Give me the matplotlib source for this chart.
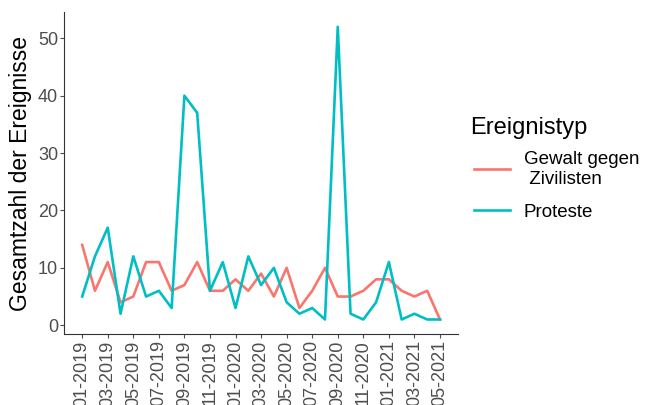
import matplotlib.pyplot as plt
import numpy as np

plt.rcParams["font.family"] = ["Liberation Sans", "DejaVu Sans"]

months = [f"{m:02d}-{y}" for y in (2019, 2020, 2021) for m in range(1, 13)][:29]
gewalt = [14, 6, 11, 4, 5, 11, 11, 6, 7, 11, 6, 6, 8, 6, 9, 5, 10, 3, 6, 10, 5, 5, 6, 8, 8, 6, 5, 6, 1]
proteste = [5, 12, 17, 2, 12, 5, 6, 3, 40, 37, 6, 11, 3, 12, 7, 10, 4, 2, 3, 1, 52, 2, 1, 4, 11, 1, 2, 1, 1]

x = np.arange(len(months))

fig = plt.figure(figsize=(6.56, 4.05), dpi=100)
ax = fig.add_axes([0.098, 0.175, 0.600, 0.795])

ax.plot(x, gewalt, color="#F8766D", lw=1.9, label="Gewalt gegen\n Zivilisten")
ax.plot(x, proteste, color="#00BFC4", lw=1.9, label="Proteste")

ax.set_xlim(-1.4, 29.4)
ax.set_ylim(-1.55, 54.55)
ax.set_xticks(x[::2])
ax.set_xticklabels(months[::2], rotation=90)
ax.set_yticks([0, 10, 20, 30, 40, 50])
ax.tick_params(colors="#4d4d4d", labelsize=13, length=3, width=0.8, pad=1.5)
ax.set_ylabel("Gesamtzahl der Ereignisse", fontsize=16.5)
ax.yaxis.set_label_coords(-0.083, 0.5)

for side in ("top", "right"):
    ax.spines[side].set_visible(False)
for side in ("left", "bottom"):
    ax.spines[side].set_color("#333333")
    ax.spines[side].set_linewidth(0.8)

fig.text(470 / 656, 1 - 128 / 405, "Ereignistyp", fontsize=17, va="center", ha="left")
leg = ax.legend(
    loc="upper left",
    bbox_to_anchor=(474 / 656, 1 - 151 / 405),
    bbox_transform=fig.transFigure,
    frameon=False,
    fontsize=13.5,
    handlelength=1.9,
    handletextpad=0.75,
    labelspacing=0.85,
    borderpad=0,
    borderaxespad=0,
)

plt.savefig("out.png", dpi=100)
